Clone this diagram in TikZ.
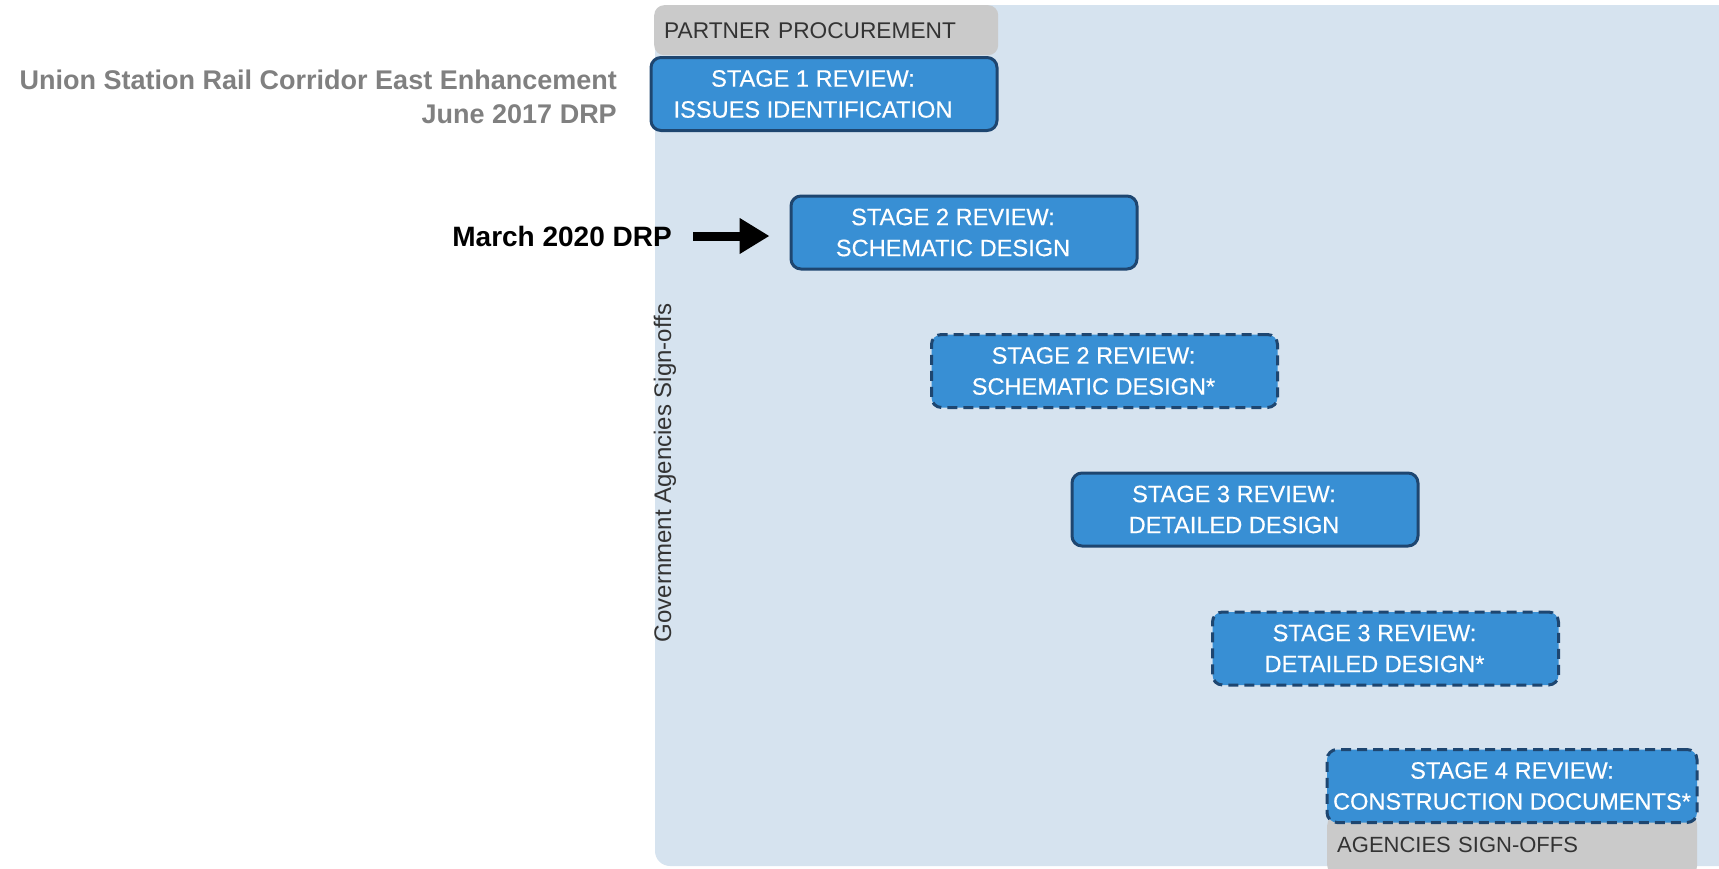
\documentclass[tikz,border=0pt]{standalone}
\usepackage{fontspec}
\setmainfont{Liberation Sans}
\newfontfamily\stagefont[FakeBold=0.4]{Liberation Sans}
\usepackage{tikz}
\usetikzlibrary{arrows.meta, positioning}
\definecolor{panelblue}{RGB}{214,227,239}
\definecolor{stageblue}{RGB}{56,143,212}
\definecolor{stageline}{RGB}{30,70,112}
\definecolor{tabgrey}{RGB}{202,202,202}
\definecolor{titlegrey}{RGB}{128,128,128}
\definecolor{labeldark}{RGB}{51,51,51}
\newcommand{\stagetxt}[2]{#1\hspace*{22pt}\\#2\hspace*{22pt}}
\tikzset{
  stage/.style={draw=stageline, fill=stageblue, line width=3pt, rounded corners=10pt,
    minimum width=346pt, minimum height=73pt, inner sep=0pt, align=center, text=white,
    font=\stagefont\fontsize{23.6}{31}\selectfont},
  stagedash/.style={stage, dash pattern=on 10pt off 6pt},
  tab/.style={fill=tabgrey, rounded corners=10pt, inner sep=0pt, inner xsep=10pt,
    align=left, text=labeldark, anchor=north west},
  bigarrow/.style={line width=9pt, -{Triangle[length=30pt,width=34pt]}}
}

\begin{document}
\begin{tikzpicture}[x=1pt, y=-1pt]
	\useasboundingbox (0,0) rectangle (1719,868);
	\fill [panelblue, rounded corners=15pt] (655,5) rectangle (1760,866);
	\node [tab, text width=324pt, minimum height=50pt, font=\fontsize{22.7}{26}\selectfont] (partner) at (654,5) {PARTNER PROCUREMENT};
	\node [tab, text width=350pt, minimum height=60pt, font=\fontsize{22}{26}\selectfont] (agencies) at (1327,815) {AGENCIES SIGN-OFFS};
	\node [stage] (s1) at (824,94) {\stagetxt{STAGE 1 REVIEW:}{ISSUES IDENTIFICATION}};
	\node [stage] (s2) at (964,232.5) {\stagetxt{STAGE 2 REVIEW:}{SCHEMATIC DESIGN}};
	\node [stagedash] (s2b) at (1104.5,371) {\stagetxt{STAGE 2 REVIEW:}{SCHEMATIC DESIGN*}};
	\node [stage] (s3) at (1245,509.5) {\stagetxt{STAGE 3 REVIEW:}{DETAILED DESIGN}};
	\node [stagedash] (s3b) at (1385.5,648.5) {\stagetxt{STAGE 3 REVIEW:}{DETAILED DESIGN*}};
	\node [stagedash, minimum width=370pt] (s4) at (1512,786) {STAGE 4 REVIEW:\\CONSTRUCTION DOCUMENTS*};
	\node [anchor=east, align=right, inner sep=0pt, text=titlegrey, font=\bfseries\fontsize{27}{34}\selectfont] (title) at (617,97) {Union Station Rail Corridor East Enhancement\\June 2017 DRP};
	\node [rotate=90, inner sep=0pt, text=labeldark, font=\fontsize{24}{28}\selectfont] (signoffs) at (665,473) {Government Agencies Sign-offs};
	\node [anchor=east, inner sep=0pt, font=\bfseries\fontsize{28}{32}\selectfont] (march) at (672,236) {March 2020 DRP};
	\draw [bigarrow, shorten <=21pt, shorten >=20pt] (march.east) -- (s2.west |- march.east);
\end{tikzpicture}
\end{document}
